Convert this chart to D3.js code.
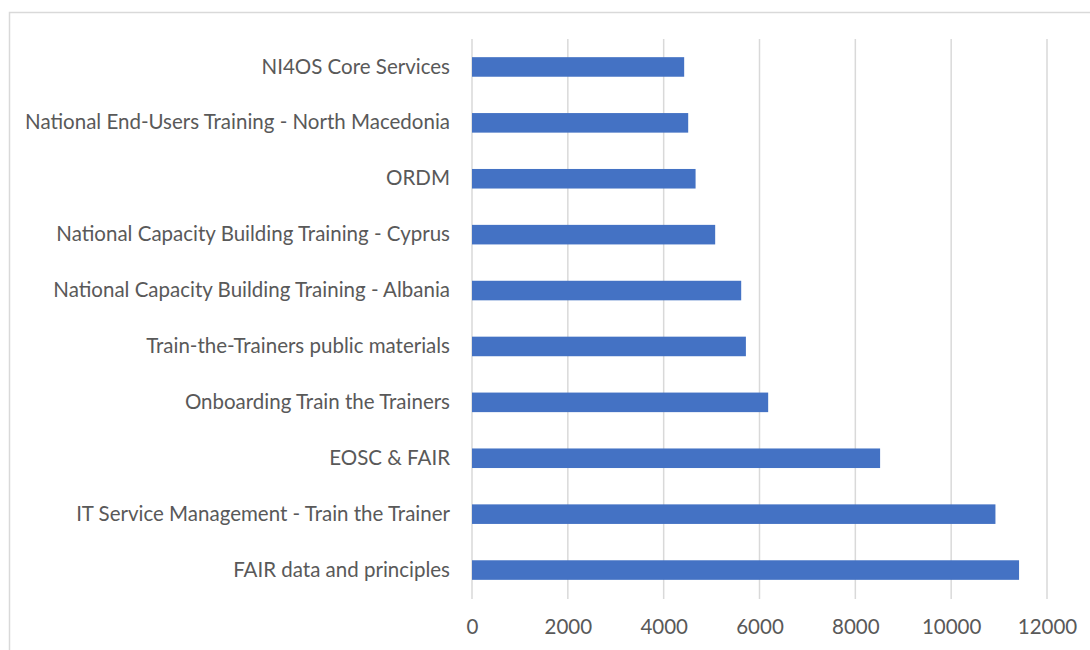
<!DOCTYPE html>
<html>
<head>
<meta charset="utf-8">
<script src="https://cdn.jsdelivr.net/npm/d3@7"></script>
<style>
  html, body { margin: 0; padding: 0; background: #fff; }
  svg { display: block; }
</style>
</head>
<body>
<svg id="chart" width="1090" height="650"></svg>
<script>
const categories = [
  "NI4OS Core Services",
  "National End-Users Training - North Macedonia",
  "ORDM",
  "National Capacity Building Training - Cyprus",
  "National Capacity Building Training - Albania",
  "Train-the-Trainers public materials",
  "Onboarding Train the Trainers",
  "EOSC & FAIR",
  "IT Service Management - Train the Trainer",
  "FAIR data and principles"
];
const values = [4428, 4512, 4666, 5075, 5618, 5716, 6181, 8517, 10924, 11417];
const xTicks = [0, 2000, 4000, 6000, 8000, 10000, 12000];

const svg = d3.select("#chart");
const W = 1090, H = 650;
const margin = { left: 472, right: 43, top: 39, bottom: 52 };
const x0 = margin.left, x1 = W - margin.right;
const y0 = margin.top, y1 = H - margin.bottom;

// outer chart border
svg.append("rect")
  .attr("x", 9.5).attr("y", 12.5)
  .attr("width", 1200).attr("height", 800)
  .attr("fill", "none").attr("stroke", "#d9d9d9").attr("stroke-width", 1.5);

const x = d3.scaleLinear().domain([0, 12000]).range([x0, x1]);
const y = d3.scaleBand().domain(categories).range([y0, y1]).paddingInner(0.65).paddingOuter(0.325);

const font = "Lato, 'Open Sans', sans-serif";
const fs = "20.5px";

// gridlines
svg.append("g").selectAll("line").data(xTicks).join("line")
  .attr("x1", d => x(d)).attr("x2", d => x(d))
  .attr("y1", y0).attr("y2", y1 + 1)
  .attr("stroke", "#d9d9d9").attr("stroke-width", 1.5);

// bars
svg.append("g").selectAll("rect").data(values).join("rect")
  .attr("x", x(0))
  .attr("y", (d, i) => y(categories[i]))
  .attr("width", d => x(d) - x(0))
  .attr("height", y.bandwidth())
  .attr("fill", "#4472c4");

// x axis
const xAxis = d3.axisBottom(x).tickValues(xTicks).tickSize(0).tickPadding(21).tickFormat(d3.format("d"));
const gx = svg.append("g").attr("transform", `translate(0,${y1})`).call(xAxis);
gx.select(".domain").remove();
gx.selectAll("text").attr("fill", "#595959").style("font-family", font).style("font-size", fs);

// y axis labels
const yAxis = d3.axisLeft(y).tickSize(0).tickPadding(22);
const gy = svg.append("g").attr("transform", `translate(${x0},0)`).call(yAxis);
gy.select(".domain").remove();
gy.selectAll("text").attr("fill", "#595959").style("font-family", font).style("font-size", fs);
</script>
</body>
</html>
